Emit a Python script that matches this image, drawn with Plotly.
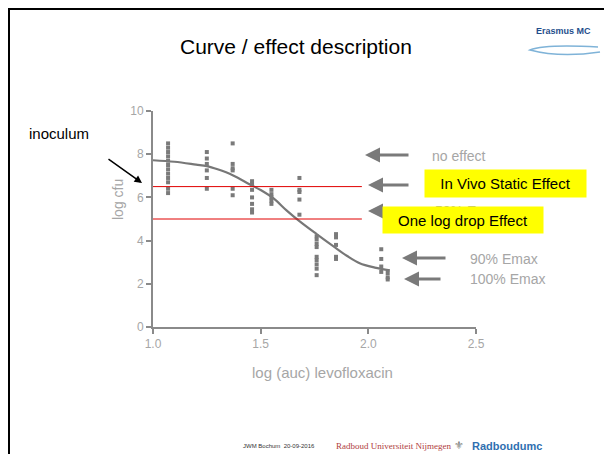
import plotly.graph_objects as go

# ---------------- data ----------------
col_x = [1.07, 1.25, 1.37, 1.46, 1.55, 1.68, 1.76, 1.85, 2.06, 2.09]
col_y = [
    [8.5, 8.3, 8.1, 7.9, 7.7, 7.5, 7.3, 7.1, 6.9, 6.7, 6.4, 6.2],
    [8.1, 7.8, 7.55, 7.25, 6.9, 6.4],
    [8.5, 7.55, 7.35, 7.25, 6.4, 6.1],
    [6.75, 6.6, 6.35, 6.0, 5.7, 5.45, 5.3],
    [6.35, 6.15, 6.0, 5.85, 5.7],
    [6.9, 6.35, 6.25, 5.9, 5.2],
    [4.2, 4.05, 3.85, 3.7, 3.25, 3.1, 2.9, 2.7, 2.4],
    [4.3, 4.15, 3.8, 3.25, 3.15],
    [3.6, 3.15, 2.8, 2.55],
    [2.5, 2.3, 2.2],
]
curve_x = [1.0, 1.1, 1.2, 1.25, 1.3, 1.37, 1.45, 1.5, 1.56, 1.62, 1.68, 1.76, 1.84, 1.9, 1.96, 2.03, 2.1]
curve_y = [7.72, 7.65, 7.52, 7.45, 7.3, 7.03, 6.6, 6.34, 5.95, 5.4, 4.9, 4.3, 3.72, 3.3, 2.95, 2.75, 2.62]
ref_levels = [6.5, 5.0]          # in vivo static effect, one log drop
ref_x = [1.0, 1.97]
x_ticks = [1.0, 1.5, 2.0, 2.5]
y_ticks = [0, 2, 4, 6, 8, 10]

# page is 612x462; body keeps its default 8px margin, so the figure is 16px smaller
OFF = 8
W, H = 612 - 2 * OFF, 462 - 2 * OFF
def px(x): return (x - OFF) / W
def py(y): return 1 - (y - OFF) / H

GRAY = "#8a8a8a"
LGRAY = "#a6a6a6"
FONT = "Liberation Sans, Arial, sans-serif"

fig = go.Figure()

pts_x, pts_y = [], []
for cx, ys in zip(col_x, col_y):
    for v in ys:
        pts_x.append(cx)
        pts_y.append(v)

fig.add_trace(go.Scatter(x=curve_x, y=curve_y, mode="lines", line=dict(color="#777777", width=2.2, shape="spline"), hoverinfo="skip"))
fig.add_trace(go.Scatter(x=pts_x, y=pts_y, mode="markers", marker=dict(symbol="square", size=4, color="#7a7a7a"), hoverinfo="skip"))
for lv in ref_levels:
    fig.add_trace(go.Scatter(x=ref_x, y=[lv, lv], mode="lines", line=dict(color="#e00000", width=1), hoverinfo="skip"))

fig.update_layout(
    width=W, height=H, margin=dict(l=0, r=0, t=0, b=0),
    paper_bgcolor="white", plot_bgcolor="white", showlegend=False,
    font=dict(family=FONT),
    xaxis=dict(domain=[px(153), px(476)], range=[1.0, 2.5], tickvals=x_ticks,
               ticktext=[f"{v:.1f}" for v in x_ticks], showgrid=False, zeroline=False,
               showline=True, linecolor=GRAY, linewidth=2, ticks="outside", ticklen=5,
               tickcolor=GRAY, tickwidth=2, tickfont=dict(size=12, color=LGRAY),
               anchor="y", automargin=False),
    yaxis=dict(domain=[py(327), py(111)], range=[0, 10], tickvals=y_ticks,
               showgrid=False, zeroline=False, showline=True, linecolor=GRAY, linewidth=2,
               ticks="outside", ticklen=5, tickcolor=GRAY, tickwidth=2,
               tickfont=dict(size=12, color=LGRAY), anchor="x", automargin=False),
)

shapes = [
    dict(type="line", xref="paper", yref="paper", x0=px(9), x1=px(9), y0=py(9), y1=0, line=dict(color="black", width=2)),
    dict(type="line", xref="paper", yref="paper", x0=px(8), x1=1, y0=py(9), y1=py(9), line=dict(color="black", width=2)),
    dict(type="path", xref="paper", yref="paper",
         path=f"M {px(600)} {py(52)} Q {px(560)} {py(58)} {px(530)} {py(50)} Q {px(545)} {py(44)} {px(598)} {py(47)}",
         line=dict(color="#7fb3d8", width=1.5)),
]

ann = []
def text(t, x, y, size, color, xanchor="center", **kw):
    ann.append(dict(text=t, x=px(x), y=py(y), xref="paper", yref="paper", showarrow=False,
                    xanchor=xanchor, yanchor="middle", font=dict(size=size, color=color, family=kw.pop("family", FONT)), **kw))

def arrow(hx, hy, tx, ty, color, width, head=2, size=1):
    ann.append(dict(text="", x=px(hx), y=py(hy), xref="paper", yref="paper", showarrow=True,
                    ax=tx - hx, ay=ty - hy, axref="pixel", ayref="pixel",
                    arrowhead=head, arrowsize=size, arrowwidth=width, arrowcolor=color))

text("Curve / effect description", 296, 46, 21, "black")
text("<b>Erasmus MC</b>", 563, 31, 9, "#1f4e8c")
text("inoculum", 27, 133, 15, "black", xanchor="left")
arrow(142, 183, 107, 158, "black", 1.5, head=2, size=1)

text("log cfu", 118, 200, 14, LGRAY, textangle=-90)
text("log (auc) levofloxacin", 322, 372, 15, LGRAY)

# gray arrows
AG = "#7a7a7a"
arrow(365, 155, 410, 155, AG, 3, head=2, size=1)
arrow(368, 185, 410, 185, AG, 3, head=2, size=1)
arrow(368, 211, 408, 211, AG, 3, head=2, size=1)
arrow(402, 258, 447, 258, AG, 3, head=2, size=1)
arrow(404, 279, 442, 279, AG, 3, head=2, size=1)

text("no effect", 430, 156, 14, LGRAY, xanchor="left")
text("50% Emax", 433, 211, 14, LGRAY, xanchor="left")
text("90% Emax", 468, 259, 14, LGRAY, xanchor="left")
text("100% Emax", 468, 279, 14, LGRAY, xanchor="left")

# yellow boxes (drawn after, on top)
ann.append(dict(text="In Vivo Static Effect", x=px(505.5), y=py(183.5), xref="paper", yref="paper",
                xanchor="center", yanchor="middle",
                showarrow=False, bgcolor="#ffff00", width=161, height=27, borderpad=0,
                font=dict(size=15, color="black", family=FONT)))
ann.append(dict(text="One log drop Effect", x=px(463), y=py(220), xref="paper", yref="paper",
                xanchor="center", yanchor="middle",
                showarrow=False, bgcolor="#ffff00", width=160, height=26, borderpad=0,
                font=dict(size=15, color="black", family=FONT)))

# footer
text("JWM Bochum  20-09-2016", 279, 446, 6, "#333333")
text("Radboud Universiteit Nijmegen", 393, 446, 9, "#b04040", family="Liberation Serif, serif")
text("⚜", 459, 445, 11, "#777777")
text("<b>Radboudumc</b>", 470, 446, 11, "#2f6fb0", xanchor="left")

fig.update_layout(shapes=shapes, annotations=ann)
fig.write_html("out.html", config={"displayModeBar": False})
